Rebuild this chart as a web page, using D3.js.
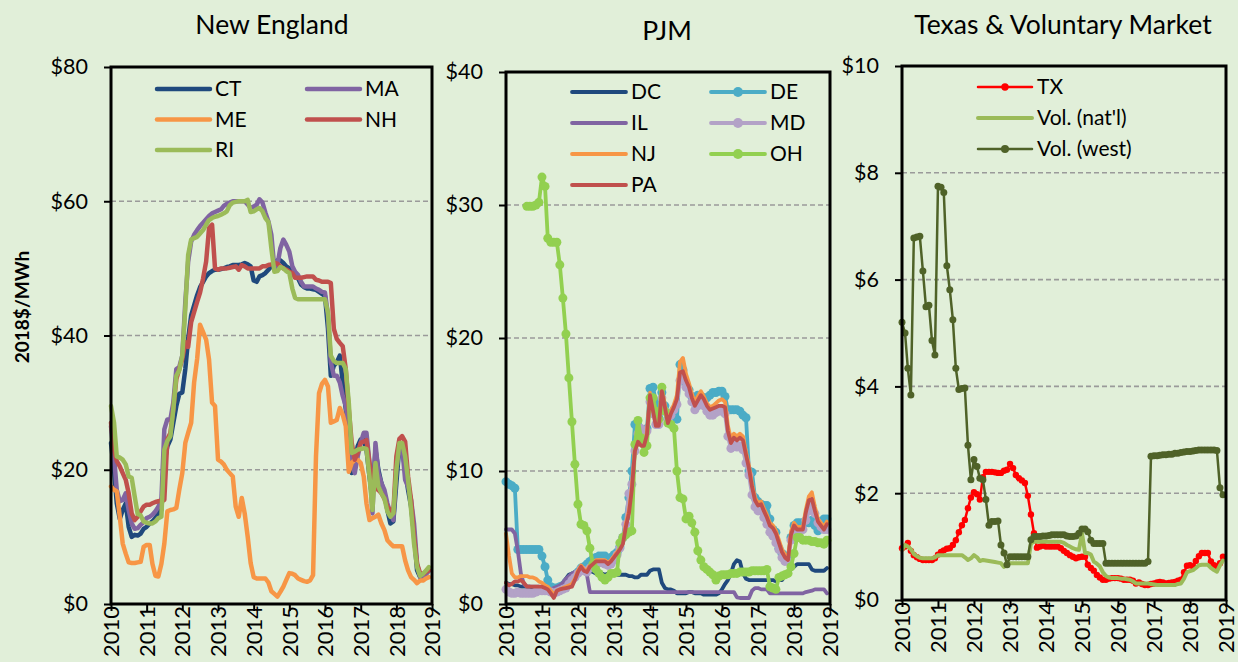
<!DOCTYPE html>
<html>
<head>
<meta charset="utf-8">
<script src="https://cdn.jsdelivr.net/npm/d3@7"></script>
<style>
  html, body { margin: 0; padding: 0; background: #e1efd9; }
  svg { display: block; font-family: Lato, "Open Sans", sans-serif; }
</style>
</head>
<body>
<svg id="chart" width="1238" height="662"></svg>
<script>
// Monthly REC prices, Jan 2010 – Dec 2018 (2018$/MWh), 108 values per series
const yearTicks = [2010, 2011, 2012, 2013, 2014, 2015, 2016, 2017, 2018, 2019];

// ---- New England ----
const ctValues = [
  24,20,15,12.7,14,15,11.5,10,10.3,10.2,10.5,11.2,
  11.5,12,12.3,12.8,13.5,14,21,23.5,24.5,27,29.5,31.3,
  31.5,35,39.5,43,44.5,46,47.2,48,48.8,49.3,49.6,49.8,
  49.8,49.9,50,50.2,50.3,50.5,50.5,50.5,50.6,50.8,50.6,50.3,
  48.2,48,48.8,49,49.3,49.8,50.3,50.8,51.2,51.2,50.8,50.3,
  50,49.5,49.2,48.5,47.6,47.2,47,47,46.9,46.8,46.5,46.2,
  45.9,41,34,35.5,36,37,33,29,24,19.5,21,23.5,
  24.5,24.5,23,19,15.5,23,20,18,16.5,14,12,12.3,
  18,23.5,23.5,20,17,14.5,10.5,5,4,4.2,4.5,5
];
const maValues = [
  26.5,22,17,15.3,15.5,16.5,14,12,11.2,11.3,11.8,12.2,
  12.8,13,13.3,13.8,14.5,15.5,26,27.5,27.5,30,35,35.3,
  37,45,51,54,55,55.7,56.3,56.8,57.3,57.8,58.2,58.4,
  58.6,58.8,59.3,59.6,59.8,60,60,60,60,60,59.5,59,
  59.2,59.5,60.3,59.8,58.3,57,55,50,50.5,53,54.3,53.5,
  52.5,50.3,49.5,49,48,47.3,47.3,47.3,47.3,47,46.8,46.5,
  46.4,43,36,34,34,33,31,29.5,26,21,19.5,22,
  24,25.5,25.5,21,13.5,24,19.5,18,17,15,13.5,12.5,
  20,23.5,23.5,18.5,17.5,15.5,12,6,4.1,4,4.5,5
];
const meValues = [
  17.5,17,16.8,13,9,7.5,6.2,6.1,6.1,6.2,6.3,8.5,
  8.8,8.8,6,4.2,4.1,6,9,13.8,14,14.1,14.3,17,
  19.5,24,25.5,27,33,36.5,41.6,40.5,39.4,36.4,30,29.5,
  21.5,21.2,20.8,20,19.5,19,14.5,13,15.8,13.5,10,6.1,
  4,3.8,3.8,3.8,3.8,3.2,1.9,1.5,1.1,1.8,2.6,3.6,
  4.6,4.5,4.3,3.8,3.6,3.4,3.3,3.5,4.3,22,31.4,32.8,
  33.4,32.4,27,27.2,27.4,29.2,28.2,26.5,19.7,21,21.5,21.5,
  21,19,15,12.5,12.8,13,13.3,12,11,9.5,9,8.6,
  8.6,8.6,8.6,6.5,5,4,3.6,3.1,3.5,3.5,3.8,4
];
const nhValues = [
  27,23,21.3,20.5,19.5,18.5,16.5,13.5,12.5,13,13.8,14.5,
  14.8,14.8,15,15.2,15.3,15.4,15.5,24.5,25.5,29,33.5,35,
  36.5,39,38.3,42,43.5,45,46.4,48.5,51,56,56.5,50,
  49.8,50,50,50,50.1,50.2,50.3,49.8,50.5,50.3,50,50,
  50,50,50,50.3,50.3,50.5,50.6,50.8,50.7,50.3,50,49.8,
  49.5,49.3,48.6,48.6,48.6,48.7,48.8,48.8,48.8,48.3,48.2,48,
  48,48,47.8,41,39.5,38.9,38.4,35,29,24,21.5,22.5,
  24,24.2,24.4,21,18,17.2,17,16.5,15.7,14.5,14,13.6,
  22,24.6,25,24.2,19,15.5,10,6,4.6,4.5,4.8,5
];
const riValues = [
  29.5,27,22,21.8,21.5,20.8,19,18.8,16,13.4,13.2,12.3,
  12.1,12,12,12.3,12.8,13,23,24.3,25,29,34,34.8,
  37,44,52,54.3,54.5,54.7,55.2,55.7,56.5,57.2,57.5,57.7,
  57.8,58,58.2,58.5,59.4,59.8,59.9,60,60,60,60.2,58.4,
  58.5,58.8,59,58.5,57.5,56.9,53,49.5,49.6,50.2,50,49.6,
  49.3,47,45.6,45.4,45.4,45.4,45.4,45.4,45.4,45.4,45.4,45.4,
  45.4,43.4,37,36.2,35.9,35.9,35.9,35,30,22.5,22.7,23,
  23.1,23.2,23.1,19,14,21,17.5,16.5,15.7,13.8,13,13.5,
  20,24,24,22,18.5,14,9,5.5,4.2,4.5,5,5.5
];

// ---- PJM ----
const dcValues = [
  1.6,1.5,1.5,1.4,1.4,1.3,1.3,1.3,1.3,1.2,1.2,1.2,
  1.1,1.0,0.9,1.0,1.1,1.2,1.4,1.6,1.9,2.2,2.3,2.4,
  2.6,2.8,2.8,2.7,2.5,2.4,2.3,2.3,2.3,2.2,2.3,2.3,
  2.2,2.2,2.2,2.2,2.2,2.1,2.1,2.0,2.0,2.2,2.2,2.2,
  2.5,2.6,2.6,2.6,1.6,1.2,1.1,1.1,1.0,0.8,0.8,0.8,
  0.8,0.9,0.9,0.8,0.8,0.8,0.7,0.7,0.7,0.7,0.7,0.8,
  1.1,1.5,1.8,2.3,3.0,3.3,3.2,2.3,1.9,1.8,1.8,1.8,
  1.8,1.8,1.8,1.8,1.8,1.8,1.7,1.8,1.8,2.1,2.3,2.6,
  2.8,3,3,3,3,3,2.6,2.5,2.5,2.5,2.5,2.7
];
const deValues = [
  9.2,9.0,8.9,8.7,4.1,4.1,4.1,4.1,4.1,4.1,4.1,4.1,
  3.6,2.8,1.8,1.3,1.2,1.2,1.3,1.4,1.6,1.8,2.0,2.2,
  2.4,2.7,2.8,3.0,3.2,3.4,3.5,3.6,3.6,3.6,3.4,3.5,
  3.7,3.9,4.3,5.0,6.5,8.0,10.0,13.5,13.4,12.8,12.5,13.2,
  16.2,16.3,15.2,14.0,15.9,14.9,13.9,14.3,14.6,13.9,18.0,17.6,
  16.5,16.1,15.6,15.3,15.7,15.6,15.5,15.5,15.7,15.9,15.9,16.0,
  16.0,15.6,14.6,14.6,14.6,14.6,14.5,14.2,14.0,10.0,9.9,8.0,
  7.7,7.5,7.4,7.4,6.4,5.6,5.4,4.2,3.8,3.6,3.6,5.0,
  5.9,6.1,6.1,6.1,6.1,6.1,6.3,5.9,5.5,6.2,6.4,6.4
];
const ilValues = [
  5.6,5.6,5.6,5.3,4,2.3,1.5,1.3,1.3,1.3,1.3,1.3,
  1.2,1.1,1.0,1.1,1.2,1.3,1.4,1.6,1.9,2.1,2.3,2.4,
  2.5,2.6,2.7,2.2,0.9,0.9,0.9,0.9,0.9,0.9,0.9,0.9,
  0.9,0.9,0.9,0.9,0.9,0.9,0.9,0.9,0.9,0.9,0.9,0.9,
  0.9,0.9,0.9,0.9,0.9,0.9,0.9,0.9,0.9,0.9,0.9,0.9,
  0.9,0.9,0.9,0.9,0.9,0.9,0.9,0.9,0.9,0.9,0.9,0.9,
  0.9,0.9,0.9,0.9,0.9,0.5,0.45,0.45,0.45,0.45,1.0,1.2,
  1.2,1.1,1.1,1.1,0.8,0.8,0.8,0.8,0.8,0.8,0.8,0.8,
  0.8,0.8,0.8,0.8,0.9,0.95,1.0,1.1,1.1,1.1,1.1,0.8
];
const mdValues = [
  1.1,0.9,0.8,0.8,0.9,0.8,0.8,0.8,0.8,0.8,0.9,1.0,
  1.0,1.0,1.0,0.9,0.8,0.9,1.0,1.1,1.2,1.5,1.8,2.0,
  2.3,2.6,2.5,2.4,2.7,2.9,3.0,3.1,3.1,3.0,2.9,3.0,
  3.3,3.7,4.2,5.0,6.0,8.3,9.0,11.5,12.8,13.2,12.8,13.0,
  15.2,14.3,13.5,13.5,15.5,14.5,13.8,14.2,14.6,15.0,16.8,17.0,
  16.3,15.8,15.2,14.6,14.9,15.3,14.9,14.5,14.2,14.2,14.4,14.5,
  14.5,14.3,12.6,11.7,12.0,11.8,11.9,11.6,10.6,9.7,8.2,7.3,
  7.0,7.0,6.5,6.0,5.4,5.1,4.6,4.1,3.5,3.2,3.2,4.8,
  5.5,5.4,5.5,5.6,6.3,7.0,7.4,6.8,6.1,5.8,5.6,5.6
];
const njValues = [
  5.3,3.6,2.3,2.0,2.0,2.1,2.1,2.1,2.0,2.0,1.9,1.7,
  1.6,1.4,1.3,1.0,0.7,1.0,1.1,1.2,1.3,1.4,1.5,1.9,
  2.5,2.9,2.6,2.5,2.9,3.1,3.3,3.3,3.3,3.3,3.1,3.3,
  3.6,3.9,4.2,4.7,6.0,7.0,8.8,11.7,12.4,12.1,12.1,12.9,
  15.9,14.7,13.6,13.6,16.2,15.0,13.8,14.5,15.0,15.7,18.2,18.5,
  17.3,16.6,15.8,15.2,15.6,16.0,15.6,15.1,14.8,14.9,15.1,15.3,
  15.4,15.2,13.4,12.4,12.8,12.6,12.8,12.6,11.4,10.4,9.0,8.0,
  7.6,7.7,7.2,6.7,6.1,5.9,5.5,4.8,4.1,3.7,3.5,5.4,
  6.1,5.8,5.8,5.8,7.1,8.1,8.4,7.3,6.4,6.1,5.8,6.2
];
const ohValues = [
  null,null,null,null,null,null,null,29.9,29.9,29.9,30,30.2,
  32.1,31.4,27.5,27.2,27.2,27.2,25.5,23,20.3,17,13.7,10.5,
  7.5,6,5.9,5.5,4.2,3.0,2.6,2.3,2.0,1.8,2.0,2.3,
  2.3,2.4,4.6,5.0,5.2,5.4,5.5,12,13.8,12.5,11.4,11.9,
  15.5,15.5,14.5,13.9,16.3,14.5,13.6,13.5,13.2,10,8,7.9,
  6.4,6.6,6.1,5.4,4.0,3.3,2.8,2.6,2.4,2.2,1.8,2.1,
  2.2,2.2,2.2,2.3,2.3,2.3,2.4,2.4,2.4,2.4,2.5,2.5,
  2.5,2.5,2.5,2.6,1.3,1.2,1.1,2.0,2.1,2.2,2.3,2.8,
  3.8,5.0,5.0,4.8,4.8,4.8,4.7,4.7,4.6,4.6,4.5,4.8
];
const paValues = [
  1.6,1.4,1.5,1.7,1.7,1.8,1.6,1.3,1.3,1.3,1.3,1.3,
  1.3,1.2,1.1,0.8,0.45,1.0,1.1,1.15,1.2,1.25,1.3,1.8,
  2.4,2.8,2.5,2.4,2.8,3.0,3.2,3.2,3.2,3.2,3.0,3.2,
  3.5,3.8,4.1,4.5,5.8,6.8,8.6,11.5,12.2,11.9,11.9,12.7,
  15.7,14.5,13.4,13.4,16.0,14.8,13.6,14.3,14.8,15.4,17.4,17.5,
  16.8,16.3,15.5,14.9,15.3,15.7,15.4,14.9,14.6,14.7,14.8,14.9,
  14.9,14.8,13,12.1,12.5,12.3,12.5,12.3,11.2,10.2,8.8,7.8,
  7.4,7.5,7,6.5,5.9,5.7,5.3,4.6,3.9,3.5,3.3,5.2,
  5.9,5.6,5.6,5.6,6.9,7.8,7.9,7.0,6.2,5.9,5.6,6.0
];

// ---- Texas & voluntary market ----
const txValues = [
  0.97,1.0,1.07,0.92,0.84,0.8,0.77,0.75,0.75,0.75,0.75,0.78,
  0.85,0.9,0.93,0.96,0.97,1.03,1.12,1.27,1.4,1.5,1.72,1.92,
  2.02,1.98,1.88,2.3,2.4,2.4,2.4,2.39,2.38,2.38,2.42,2.44,
  2.55,2.47,2.34,2.28,2.24,2.19,1.95,1.6,1.25,0.98,1.0,1.02,
  1.0,1.0,1.0,1.0,1.0,0.97,0.92,0.88,0.84,0.81,0.78,0.8,
  0.81,0.81,0.66,0.6,0.55,0.47,0.42,0.38,0.38,0.4,0.41,0.41,
  0.41,0.4,0.38,0.38,0.38,0.36,0.31,0.33,0.3,0.28,0.28,0.3,
  0.31,0.33,0.34,0.33,0.31,0.32,0.33,0.34,0.36,0.38,0.52,0.64,
  0.65,0.63,0.73,0.82,0.88,0.88,0.88,0.72,0.65,0.63,0.69,0.81
];
const volNatValues = [
  0.94,1.03,1.0,0.95,0.86,0.82,0.79,0.78,0.78,0.78,0.78,0.8,
  0.84,0.84,0.84,0.84,0.84,0.84,0.84,0.84,0.84,0.8,0.75,0.78,
  0.84,0.8,0.73,0.75,0.74,0.73,0.72,0.71,0.7,0.69,0.62,0.66,
  0.69,0.69,0.69,0.69,0.69,0.69,0.69,1.06,1.09,1.09,1.09,1.09,
  1.09,1.09,1.09,1.09,1.09,1.09,1.07,1.03,1.0,0.97,0.95,0.94,
  1.25,0.88,0.88,0.85,0.72,0.68,0.63,0.52,0.45,0.42,0.41,0.41,
  0.41,0.4,0.4,0.39,0.38,0.35,0.31,0.31,0.31,0.31,0.31,0.3,
  0.29,0.28,0.28,0.28,0.28,0.28,0.28,0.28,0.3,0.31,0.4,0.52,
  0.54,0.56,0.6,0.65,0.66,0.66,0.66,0.6,0.56,0.53,0.65,0.74
];
const volWestValues = [
  5.2,5.0,4.34,3.84,6.78,6.8,6.81,6.16,5.49,5.52,4.86,4.59,
  7.75,7.73,7.63,6.26,5.81,5.25,4.34,3.94,3.96,3.97,2.9,2.25,
  2.63,2.5,2.28,2.25,1.88,1.4,1.47,1.47,1.48,1.03,0.88,0.66,
  0.81,0.81,0.81,0.81,0.81,0.81,0.81,1.13,1.19,1.19,1.19,1.2,
  1.2,1.21,1.22,1.22,1.22,1.22,1.22,1.2,1.19,1.19,1.2,1.25,
  1.33,1.33,1.28,1.12,1.06,1.06,1.06,1.06,0.69,0.69,0.69,0.69,
  0.69,0.69,0.69,0.69,0.69,0.69,0.69,0.69,0.69,0.69,0.72,2.69,
  2.7,2.7,2.71,2.72,2.72,2.73,2.73,2.75,2.75,2.76,2.77,2.78,
  2.78,2.79,2.8,2.81,2.81,2.81,2.81,2.81,2.81,2.8,2.1,1.97
];

// month start dates for every value
const months = d3.timeMonth.range(new Date(2010, 0, 1), new Date(2019, 0, 1));

const panels = [
  {
    title: "New England", titleX: 272, titleY: 34,
    box: { l: 111, r: 432, t: 67, b: 604 },
    yMax: 80, yTicks: [0, 20, 40, 60, 80],
    legend: { cols: [157, 307], y0: 89, dy: 30.5, len: 53 },
    series: [
      { name: "CT", values: ctValues, color: "#1F497D", width: 4.5, r: 0 },
      { name: "MA", values: maValues, color: "#8064A2", width: 4.5, r: 0 },
      { name: "ME", values: meValues, color: "#F79646", width: 4.5, r: 0 },
      { name: "NH", values: nhValues, color: "#C0504D", width: 4.5, r: 0 },
      { name: "RI", values: riValues, color: "#9BBB59", width: 4.5, r: 0 }
    ]
  },
  {
    title: "PJM", titleX: 667, titleY: 40,
    box: { l: 506, r: 830, t: 72, b: 604 },
    yMax: 40, yTicks: [0, 10, 20, 30, 40],
    legend: { cols: [572, 711], y0: 92, dy: 31, len: 54 },
    series: [
      { name: "DC", values: dcValues, color: "#1F497D", width: 3.8, r: 0 },
      { name: "DE", values: deValues, color: "#4BACC6", width: 3.8, r: 4.5 },
      { name: "IL", values: ilValues, color: "#8064A2", width: 3.8, r: 0 },
      { name: "MD", values: mdValues, color: "#B3A2C7", width: 3.8, r: 4.5 },
      { name: "NJ", values: njValues, color: "#F79646", width: 3.8, r: 0 },
      { name: "OH", values: ohValues, color: "#92D050", width: 3.8, r: 4.5 },
      { name: "PA", values: paValues, color: "#C0504D", width: 3.8, r: 0 }
    ]
  },
  {
    title: "Texas & Voluntary Market", titleX: 1063, titleY: 34,
    box: { l: 902, r: 1226, t: 66, b: 600 },
    yMax: 10, yTicks: [0, 2, 4, 6, 8, 10],
    legend: { cols: [978], y0: 87, dy: 31, len: 54 },
    series: [
      { name: "TX", values: txValues, color: "#FF0000", width: 2.5, r: 3.2 },
      { name: "Vol. (nat'l)", values: volNatValues, color: "#9BBB59", width: 4, r: 0 },
      { name: "Vol. (west)", values: volWestValues, color: "#4F6228", width: 2.5, r: 3.5 }
    ]
  }
];

const svg = d3.select("#chart");

svg.append("rect").attr("width", 1238).attr("height", 662).attr("fill", "#e1efd9");

// shared y-axis title
svg.append("text")
  .attr("transform", "translate(29,307) rotate(-90)")
  .attr("text-anchor", "middle")
  .attr("font-weight", "bold")
  .attr("font-size", 19)
  .attr("fill", "#000")
  .text("2018$/MWh");

panels.forEach(p => {
  const g = svg.append("g");
  const { l, r, t, b } = p.box;

  const x = d3.scaleTime()
    .domain([new Date(2010, 0, 1), new Date(2019, 0, 1)])
    .range([l, r]);
  const y = d3.scaleLinear().domain([0, p.yMax]).range([b, t]);

  // title
  g.append("text")
    .attr("x", p.titleX).attr("y", p.titleY)
    .attr("text-anchor", "middle")
    .attr("font-size", 26.5)
    .attr("fill", "#000")
    .text(p.title);

  // dashed gridlines
  g.selectAll(".grid")
    .data(p.yTicks.filter(v => v > 0 && v < p.yMax))
    .join("line")
    .attr("x1", l).attr("x2", r)
    .attr("y1", d => y(d)).attr("y2", d => y(d))
    .attr("stroke", "#9a9a9a")
    .attr("stroke-width", 1.6)
    .attr("stroke-dasharray", "5,3");

  // series
  const line = d3.line()
    .defined(v => v != null)
    .x((v, i) => x(months[i]))
    .y(v => y(v));

  p.series.forEach(s => {
    g.append("path")
      .attr("d", line(s.values))
      .attr("fill", "none")
      .attr("stroke", s.color)
      .attr("stroke-width", s.width)
      .attr("stroke-linejoin", "round")
      .attr("stroke-linecap", "round");
    if (s.r > 0) {
      g.append("g").selectAll("circle")
        .data(s.values.map((v, i) => ({ v, i })).filter(d => d.v != null))
        .join("circle")
        .attr("cx", d => x(months[d.i]))
        .attr("cy", d => y(d.v))
        .attr("r", s.r)
        .attr("fill", s.color);
    }
  });

  // plot frame
  g.append("rect")
    .attr("x", l).attr("y", t)
    .attr("width", r - l).attr("height", b - t)
    .attr("fill", "none")
    .attr("stroke", "#000")
    .attr("stroke-width", 3);

  // y axis
  const yAxis = g.append("g")
    .attr("transform", `translate(${l},0)`)
    .call(d3.axisLeft(y).tickValues(p.yTicks).tickSize(7).tickPadding(16)
      .tickFormat(v => "$" + v));
  yAxis.select(".domain").remove();
  yAxis.selectAll("line").attr("stroke", "#000").attr("stroke-width", 2);
  yAxis.selectAll("text")
    .attr("font-family", "Lato, 'Open Sans', sans-serif")
    .attr("font-size", 21.5)
    .attr("fill", "#000");

  // x axis (rotated year labels)
  const xAxis = g.append("g")
    .attr("transform", `translate(0,${b})`)
    .call(d3.axisBottom(x)
      .tickValues(yearTicks.map(yr => new Date(yr, 0, 1)))
      .tickSize(7)
      .tickFormat(d3.timeFormat("%Y")));
  xAxis.select(".domain").remove();
  xAxis.selectAll("line").attr("stroke", "#000").attr("stroke-width", 2);
  xAxis.selectAll("text")
    .attr("font-family", "Lato, 'Open Sans', sans-serif")
    .attr("font-size", 22)
    .attr("fill", "#000")
    .attr("transform", "rotate(-90)")
    .attr("text-anchor", "end")
    .attr("x", -2)
    .attr("y", 0)
    .attr("dy", "0.35em");

  // legend
  const lg = g.append("g");
  const nCols = p.legend.cols.length;
  p.series.forEach((s, k) => {
    const cx = p.legend.cols[k % nCols];
    const cy = p.legend.y0 + Math.floor(k / nCols) * p.legend.dy;
    lg.append("line")
      .attr("x1", cx).attr("x2", cx + p.legend.len)
      .attr("y1", cy).attr("y2", cy)
      .attr("stroke", s.color)
      .attr("stroke-width", s.width)
      .attr("stroke-linecap", "round");
    if (s.r > 0) {
      lg.append("circle")
        .attr("cx", cx + p.legend.len / 2).attr("cy", cy)
        .attr("r", s.r + 0.5).attr("fill", s.color);
    }
    lg.append("text")
      .attr("x", cx + p.legend.len + 5).attr("y", cy)
      .attr("dy", "0.35em")
      .attr("font-size", 21)
      .attr("fill", "#000")
      .text(s.name);
  });
});
</script>
</body>
</html>
